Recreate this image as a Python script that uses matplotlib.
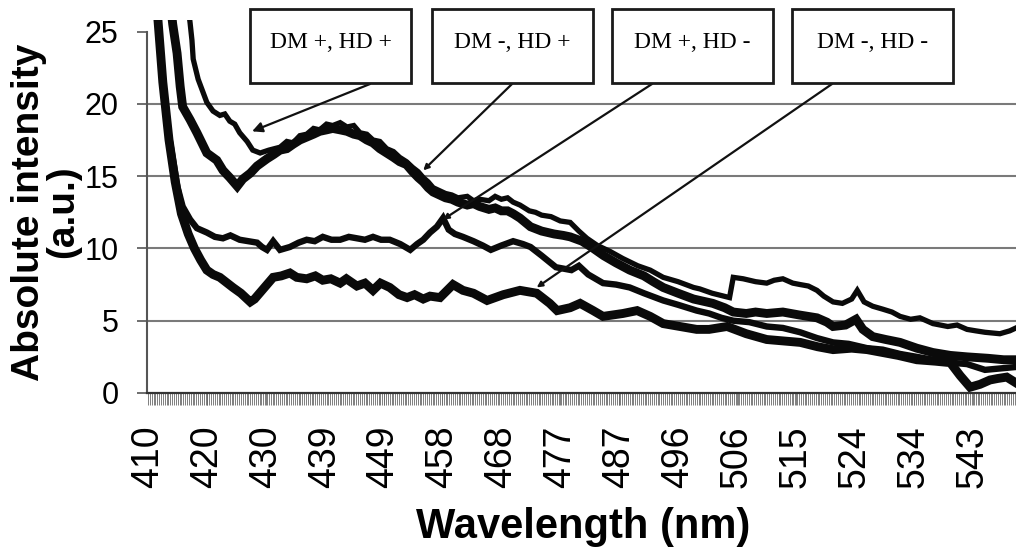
"""Emission spectra of the four DM / HD combinations."""

import matplotlib

matplotlib.use("Agg")
import matplotlib.pyplot as plt
import numpy as np
from matplotlib.patches import Rectangle

# --- data ------------------------------------------------------------------
wl_dm_p_hd_p = [
    416.4, 416.8, 417.1, 417.3, 418.1, 419.5, 420.5, 421.6, 422.4, 423.2, 424.0, 424.8,
    426.0, 426.9, 428.1, 429.5, 431.3, 432.4, 433.4, 434.5, 435.6, 436.7, 437.7, 438.8,
    439.8, 441.0, 442.1, 443.2, 444.2, 445.3, 446.3, 447.4, 448.5, 449.6, 450.6, 451.7,
    452.7, 453.6, 454.4, 455.2, 456.0, 457.0, 458.0, 459.0, 460.0, 461.5, 462.5, 463.5,
    465.0, 466.0, 467.0, 468.0, 468.9, 470.0, 471.5, 472.5, 473.5, 475.0, 476.5, 478.1,
    479.5, 480.8, 482.5, 484.5, 486.6, 489.0, 491.0, 493.1, 495.5, 498.0, 499.0, 501.0,
    503.8, 504.4, 506.0, 508.0, 509.8, 511.0, 512.4, 514.0, 515.2, 516.5, 517.9, 519.0,
    520.5, 522.0, 523.5, 524.4, 525.5, 526.9, 528.5, 530.0, 531.3, 533.0, 534.5, 536.6,
    539.0, 540.5, 542.1, 543.5, 545.0, 547.4, 549.0, 550.0,
]
int_dm_p_hd_p = [
    27.0, 25.6, 24.4, 23.1, 21.7, 20.1, 19.5, 19.2, 19.3, 18.8, 18.6, 18.0,
    17.4, 16.8, 16.6, 16.8, 17.0, 17.4, 17.3, 17.8, 17.9, 18.3, 18.2, 18.6,
    18.5, 18.7, 18.4, 18.5, 18.0, 17.9, 17.5, 17.4, 16.9, 16.7, 16.3, 16.0,
    15.6, 15.3, 14.9, 14.6, 14.2, 14.0, 13.8, 13.7, 13.5, 13.6, 13.3, 13.4,
    13.3, 13.6, 13.4, 13.5, 13.2, 13.0, 12.6, 12.5, 12.3, 12.2, 11.9, 11.8,
    11.2, 10.7, 10.2, 9.8, 9.3, 8.8, 8.5, 8.0, 7.7, 7.3, 7.2, 6.9,
    6.6, 8.0, 7.9, 7.7, 7.6, 7.8, 7.9, 7.6, 7.5, 7.4, 7.1, 6.7,
    6.3, 6.2, 6.5, 7.1, 6.3, 6.0, 5.8, 5.6, 5.3, 5.1, 5.2, 4.8,
    4.6, 4.7, 4.4, 4.3, 4.2, 4.1, 4.3, 4.5,
]

wl_dm_m_hd_p = [
    413.6, 414.0, 414.7, 415.2, 415.6, 416.8, 417.9, 419.5, 421.1, 422.1, 423.2, 424.4,
    425.3, 426.5, 427.6, 429.2, 430.3, 431.3, 432.4, 433.4, 434.5, 435.6, 436.7, 437.7,
    438.8, 439.8, 441.0, 442.1, 443.2, 444.2, 445.3, 446.3, 447.4, 448.5, 449.6, 450.6,
    451.7, 452.7, 453.6, 454.4, 455.2, 456.0, 457.0, 458.0, 459.0, 460.0, 461.5, 462.5,
    463.5, 465.0, 466.0, 467.0, 468.0, 468.9, 470.0, 471.7, 473.5, 475.5, 477.0, 478.1,
    480.0, 481.5, 483.5, 485.5, 487.7, 490.0, 491.5, 493.1, 495.5, 498.0, 501.1, 503.0,
    504.4, 506.5, 508.0, 509.8, 512.4, 515.0, 517.9, 519.5, 520.5, 522.5, 524.2, 525.3,
    526.9, 529.0, 531.3, 534.0, 536.6, 539.4, 542.1, 545.5, 548.0, 550.0,
]
int_dm_m_hd_p = [
    27.0, 25.5, 23.5, 21.2, 19.8, 18.9, 18.0, 16.6, 16.1, 15.4, 14.9, 14.3,
    14.8, 15.2, 15.7, 16.2, 16.5, 16.8, 16.9, 17.2, 17.5, 17.7, 17.9, 18.1,
    18.2, 18.3, 18.2, 18.1, 17.9, 17.8, 17.5, 17.3, 16.9, 16.6, 16.3, 16.0,
    15.8, 15.3, 14.9, 14.6, 14.2, 13.9, 13.7, 13.5, 13.4, 13.2, 13.0, 13.1,
    12.9, 12.7, 12.8, 12.6, 12.6, 12.4, 12.1, 11.5, 11.2, 11.0, 10.9, 10.8,
    10.5, 10.1, 9.5, 9.0, 8.5, 8.1, 7.7, 7.3, 6.9, 6.5, 6.2, 5.9,
    5.6, 5.5, 5.6, 5.5, 5.6, 5.4, 5.2, 4.9, 4.6, 4.7, 5.1, 4.4,
    3.9, 3.7, 3.5, 3.1, 2.8, 2.6, 2.5, 2.4, 2.3, 2.3,
]

wl_dm_p_hd_m = [
    411.4, 412.4, 413.4, 414.3, 414.8, 415.6, 416.8, 417.9, 419.5, 420.8, 422.1, 423.3,
    424.8, 426.2, 427.6, 428.4, 429.2, 430.2, 431.3, 432.9, 434.3, 435.6, 436.9, 438.2,
    439.6, 441.0, 442.4, 443.7, 445.0, 446.3, 447.6, 449.0, 450.7, 452.3, 453.4, 454.4,
    455.5, 456.6, 457.6, 458.5, 459.5, 460.8, 462.5, 464.0, 465.3, 467.0, 468.9, 470.5,
    471.7, 473.5, 475.8, 478.3, 479.5, 481.0, 483.4, 485.5, 487.7, 490.0, 493.1, 495.5,
    498.5, 500.5, 502.5, 504.4, 507.0, 509.8, 512.4, 515.2, 517.9, 520.5, 523.0, 526.0,
    528.5, 531.3, 534.0, 536.6, 539.4, 542.1, 545.0, 547.5, 550.0,
]
int_dm_p_hd_m = [
    27.0, 21.5, 17.8, 15.5, 14.2, 12.9, 12.0, 11.4, 11.1, 10.8, 10.7, 10.9,
    10.6, 10.5, 10.4, 10.1, 9.9, 10.5, 9.9, 10.1, 10.4, 10.6, 10.5, 10.8,
    10.6, 10.6, 10.8, 10.7, 10.6, 10.8, 10.6, 10.6, 10.3, 9.9, 10.3, 10.6,
    11.1, 11.5, 12.1, 11.3, 11.0, 10.8, 10.5, 10.2, 9.9, 10.2, 10.5, 10.3,
    10.1, 9.5, 8.7, 8.5, 8.8, 8.2, 7.6, 7.5, 7.3, 6.9, 6.4, 6.1,
    5.7, 5.5, 5.2, 5.0, 4.9, 4.6, 4.5, 4.2, 3.8, 3.5, 3.4, 3.1,
    3.0, 2.7, 2.5, 2.3, 2.1, 2.0, 1.6, 1.7, 1.8,
]

wl_dm_m_hd_m = [
    411.4, 412.4, 413.4, 414.4, 415.4, 416.5, 417.5, 418.5, 419.5, 420.5, 421.6, 422.5,
    423.7, 425.0, 426.5, 427.2, 428.0, 429.0, 430.2, 431.5, 432.9, 434.0, 435.6, 437.0,
    438.2, 439.5, 441.0, 442.0, 443.7, 445.0, 446.3, 447.5, 449.0, 450.5, 451.8, 453.0,
    454.4, 455.5, 457.1, 459.2, 460.8, 462.5, 464.7, 467.3, 470.0, 472.7, 474.8, 476.0,
    478.1, 479.7, 481.8, 483.4, 486.6, 488.9, 491.0, 493.1, 495.8, 498.5, 500.5, 503.4,
    506.5, 509.8, 512.5, 515.2, 518.0, 520.5, 523.5, 526.0, 528.5, 531.0, 534.0, 537.0,
    539.4, 541.0, 542.6, 544.2, 545.8, 547.0, 548.5, 550.0,
]
int_dm_m_hd_m = [
    27.0, 21.5, 17.5, 14.6, 12.4, 11.0, 10.0, 9.2, 8.5, 8.2, 8.0, 7.7,
    7.3, 6.9, 6.3, 6.5, 6.9, 7.4, 8.0, 8.1, 8.3, 8.0, 7.9, 8.1,
    7.8, 7.9, 7.6, 7.9, 7.4, 7.6, 7.1, 7.6, 7.3, 6.8, 6.6, 6.8,
    6.5, 6.7, 6.6, 7.5, 7.1, 6.9, 6.4, 6.8, 7.1, 6.9, 6.2, 5.7,
    5.9, 6.2, 5.7, 5.3, 5.5, 5.7, 5.3, 4.8, 4.6, 4.4, 4.4, 4.6,
    4.1, 3.7, 3.6, 3.5, 3.2, 3.0, 3.1, 3.0, 2.8, 2.6, 2.3, 2.2,
    2.1, 1.2, 0.4, 0.6, 0.9, 1.0, 1.1, 0.7,
]

tick_labels = ["410", "420", "430", "439", "449", "458", "468", "477",
               "487", "496", "506", "515", "524", "534", "543"]
series_labels = ["DM +, HD +", "DM -, HD +", "DM +, HD -", "DM -, HD -"]
# points the callout arrows touch (wavelength, intensity)
label_targets = [(426.8, 18.1), (454.4, 15.4), (457.6, 12.0), (472.7, 7.3)]

# --- figure ----------------------------------------------------------------
W, H = 1016, 558
fig = plt.figure(figsize=(W / 100, H / 100), dpi=100)
ax = fig.add_axes([147 / W, 1 - 393 / H, 1 - 147 / W, (393 - 20) / H])

ink = "#0a0a0a"
ax.plot(wl_dm_p_hd_p, int_dm_p_hd_p, color=ink, lw=3.8, solid_joinstyle="miter")
ax.plot(wl_dm_m_hd_p, int_dm_m_hd_p, color=ink, lw=6.4, solid_joinstyle="miter")
ax.plot(wl_dm_p_hd_m, int_dm_p_hd_m, color=ink, lw=4.6, solid_joinstyle="miter")
ax.plot(wl_dm_m_hd_m, int_dm_m_hd_m, color=ink, lw=6.4, solid_joinstyle="miter")

ax.set_xlim(409.85, 550)
ax.set_ylim(0, 25.8)

# axes styling (Excel look)
for side in ("top", "right"):
    ax.spines[side].set_visible(False)
ax.spines["left"].set_bounds(0, 25)
ax.spines["left"].set_color("#555555")
ax.spines["left"].set_linewidth(1.5)
ax.spines["bottom"].set_color("#333333")
ax.spines["bottom"].set_linewidth(1.6)

ax.set_yticks(range(0, 26, 5))
ax.set_yticklabels([str(v) for v in range(0, 26, 5)], fontsize=22, family="Liberation Sans")
ax.tick_params(axis="y", direction="out", length=7.5, width=1.2, color="#555555", pad=13)
for v in range(5, 21, 5):
    ax.axhline(v, color="#7a7a7a", lw=1.5, zorder=0)

ax.set_xticks(np.linspace(410, 543, len(tick_labels)))
ax.set_xticklabels(tick_labels, rotation=90, fontsize=27, family="Liberation Sans")
ax.set_xticks(np.arange(410, 550, 0.3), minor=True)
ax.tick_params(axis="x", which="both", direction="out", length=8.5, width=0.6,
               color="#6a6a6a")
ax.tick_params(axis="x", which="major", pad=15)

fig.text(46 / W, 1 - 212 / H, "Absolute intensity\n(a.u.)", rotation=90,
         ha="center", va="center", multialignment="center", fontsize=28,
         fontweight="bold", family="Liberation Sans", linespacing=0.95)
fig.text(583 / W, 1 - 527 / H, "Wavelength (nm)", ha="center", va="center",
         fontsize=30, fontweight="bold", family="Liberation Sans")

# callout boxes with leader arrows
box_left = [250, 432, 612, 792]
box_w, box_top, box_bot = 161, 9, 83
lead_off = [120, 80, 40, 40]
head = [15, 8, 8, 8]
for label, x0, off, tgt, hs in zip(series_labels, box_left, lead_off, label_targets, head):
    fig.patches.append(Rectangle((x0 / W, 1 - box_bot / H), box_w / W, (box_bot - box_top) / H,
                                 transform=fig.transFigure, facecolor="white",
                                 edgecolor="#1a1a1a", lw=2.0, zorder=5))
    fig.text((x0 + box_w / 2) / W, 1 - 42 / H, label, ha="center", va="center",
             fontsize=17, family="Liberation Serif", zorder=6)
    ax.annotate("", xy=tgt, xycoords="data",
                xytext=((x0 + off) / W, 1 - (box_bot + 1) / H), textcoords="figure fraction",
                arrowprops=dict(arrowstyle="-|>", color="#111111", lw=1.6,
                                mutation_scale=hs, shrinkA=0, shrinkB=0),
                annotation_clip=False, zorder=4)

fig.savefig("out.png", dpi=100)
